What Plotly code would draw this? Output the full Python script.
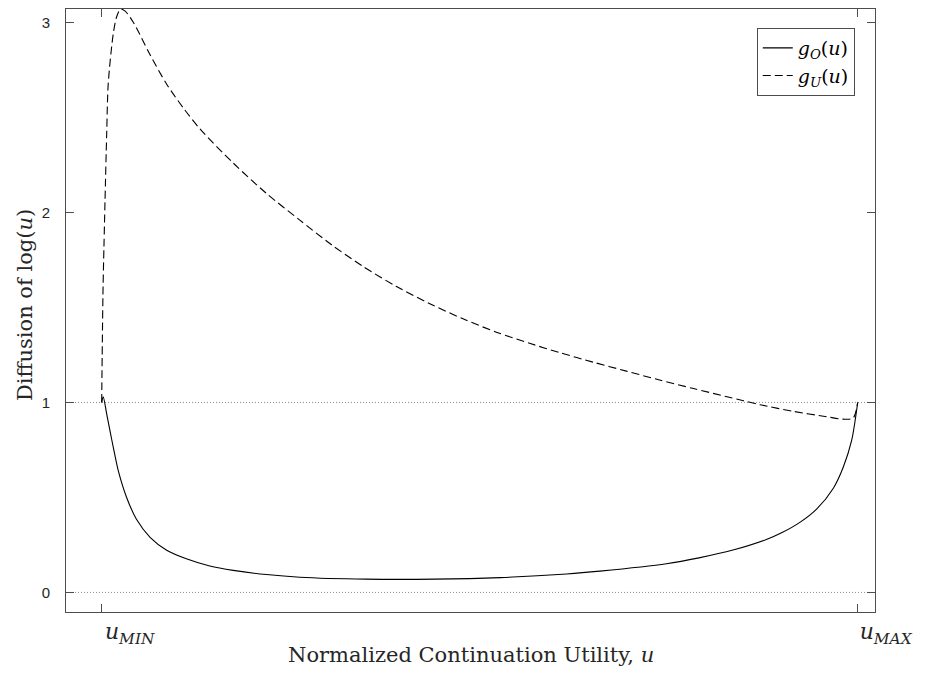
import plotly.graph_objects as go

# ---- data ----
u_O = [0.0, 0.002, 0.0066, 0.011, 0.0153, 0.022, 0.033, 0.046, 0.064, 0.086, 0.112,
       0.143, 0.174, 0.218, 0.262, 0.35, 0.44, 0.527, 0.615, 0.659, 0.747, 0.79, 0.835,
       0.88, 0.90, 0.924, 0.946, 0.968, 0.981, 0.992, 1.0]
g_O = [1.0, 1.03, 0.94, 0.85, 0.765, 0.64, 0.50, 0.385, 0.29, 0.222, 0.177,
       0.139, 0.116, 0.094, 0.08, 0.07, 0.07, 0.078, 0.097, 0.112, 0.151, 0.182, 0.223,
       0.28, 0.315, 0.37, 0.44, 0.55, 0.66, 0.80, 1.0]

u_U = [0.0, 0.0008, 0.0018, 0.003, 0.0044, 0.0066, 0.0087, 0.0153, 0.0198, 0.025,
       0.031, 0.042, 0.064, 0.086, 0.108, 0.130, 0.174, 0.218, 0.262, 0.304, 0.346,
       0.390, 0.434, 0.478, 0.522, 0.567, 0.606, 0.650, 0.694, 0.738, 0.783, 0.827,
       0.849, 0.871, 0.915, 0.959, 0.981, 0.994, 1.0]
g_U = [1.0, 1.3, 1.6, 1.82, 2.06, 2.41, 2.68, 2.94, 3.03, 3.07,
       3.06, 3.0, 2.83, 2.675, 2.55, 2.44, 2.26, 2.10, 1.96, 1.83, 1.715,
       1.61, 1.52, 1.44, 1.37, 1.31, 1.262, 1.212, 1.165, 1.118, 1.073, 1.03,
       1.009, 0.988, 0.953, 0.925, 0.912, 0.918, 1.0]

ref_levels = [0, 1]
x_tickvals = [0, 1]
x_ticktext = ["<i>u</i><sub><i>MIN</i></sub>", "<i>u</i><sub><i>MAX</i></sub>"]
y_tickvals = [0, 1, 2, 3]

SERIF = "DejaVu Serif"
AX = "#4d4d4d"
TXT = "#262626"

fig = go.Figure()
fig.add_trace(go.Scatter(x=u_O, y=g_O, mode="lines",
                         name="<i>g</i><sub><i>O</i></sub>(<i>u</i>)",
                         line=dict(color="black", width=1.1, shape="spline", smoothing=0.8)))
fig.add_trace(go.Scatter(x=u_U, y=g_U, mode="lines",
                         name="<i>g</i><sub><i>U</i></sub>(<i>u</i>)",
                         line=dict(color="black", width=1.1, dash="8px,4px", shape="spline", smoothing=0.8)))

for lv in ref_levels:
    fig.add_shape(type="line", xref="paper", x0=0, x1=1, yref="y", y0=lv, y1=lv,
                  line=dict(color="#8c8c8c", width=1, dash="1px,2px"), layer="below")

fig.update_layout(
    width=925, height=673,
    margin=dict(l=66, r=50, t=9, b=61),
    paper_bgcolor="white", plot_bgcolor="white",
    showlegend=True,
    legend=dict(x=0.975, y=0.9685, xanchor="right", yanchor="top",
                bgcolor="white", bordercolor=AX, borderwidth=1,
                font=dict(family=SERIF, size=19, color="black"),
                tracegroupgap=0),
    xaxis=dict(range=[-0.0472, 1.0229], tickvals=x_tickvals, ticktext=x_ticktext,
               ticks="inside", ticklen=8, tickcolor=AX, showline=True, linecolor=AX,
               linewidth=1, mirror="ticks", showgrid=False, zeroline=False,
               automargin=False,
               tickfont=dict(family=SERIF, size=22, color=TXT),
               ticklabelshift=28, ticklabelstandoff=0),
    yaxis=dict(range=[-0.103, 3.071], tickvals=y_tickvals,
               ticks="inside", ticklen=8, tickcolor=AX, showline=True, linecolor=AX,
               linewidth=1, mirror="ticks", showgrid=False, zeroline=False,
               automargin=False,
               tickfont=dict(family="Liberation Sans", size=15, color=TXT),
               ticklabelstandoff=12),
    annotations=[
        dict(text="Diffusion of log(<i>u</i>)", textangle=-90,
             xref="paper", yref="paper", x=(25 - 66) / 809, y=(612 - 305) / 603,
             xanchor="center", yanchor="middle", showarrow=False,
             font=dict(family=SERIF, size=21, color=TXT)),
        dict(text="Normalized Continuation Utility, <i>u</i>",
             xref="paper", yref="paper", x=0.5, y=(612 - 655) / 603,
             xanchor="center", yanchor="middle", showarrow=False,
             font=dict(family=SERIF, size=21, color=TXT)),
    ],
)

fig.write_html("out.html")
